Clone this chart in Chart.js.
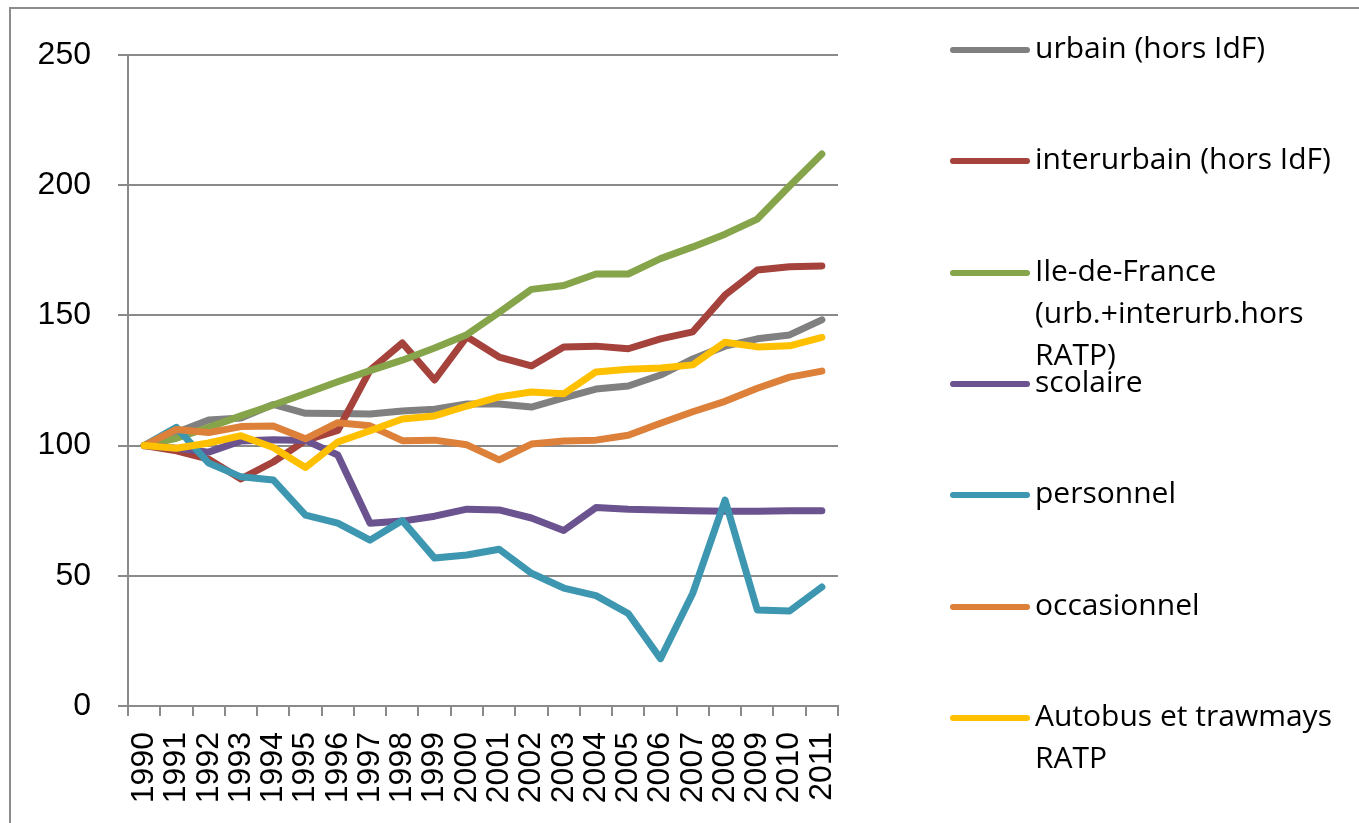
<!DOCTYPE html>
<html>
<head>
<meta charset="utf-8">
<script src="https://cdn.jsdelivr.net/npm/chart.js@4/dist/chart.umd.min.js"></script>
<style>
  body { margin: 0; background: #fff; }
  #wrap { position: relative; width: 1359px; height: 823px; overflow: hidden; }
  #legend { position: absolute; left: 0; top: 0; }
  .item { position: absolute; left: 950px; }
  .swatch { position: absolute; left: 0; width: 80px; height: 6px; border-radius: 3px; }
  .txt { position: absolute; left: 85px; width: 330px; font: 30px "Open Sans", sans-serif; line-height: 42px; color: #000; white-space: pre; }
</style>
</head>
<body>
<div id="wrap">
  <canvas id="chart" width="1359" height="823"></canvas>
  <div id="legend"></div>
</div>
<script>
// categories
var years = ['1990', '1991', '1992', '1993', '1994', '1995', '1996', '1997', '1998', '1999', '2000',
  '2001', '2002', '2003', '2004', '2005', '2006', '2007', '2008', '2009', '2010', '2011'];

// series (index 1990 = 100)
var urbain = [100, 105, 109.8, 110.6, 115.8, 112.4, 112.3, 112.1, 113.3, 114, 116, 116, 114.8, 118.3, 121.7, 122.9, 127.1, 133.3, 138.2, 141, 142.5, 148.3];
var interurbain = [100, 98, 94.8, 87.2, 93.7, 102, 105.8, 129, 139.4, 125.2, 141.8, 134, 130.6, 137.9, 138.2, 137.2, 141, 143.7, 157.8, 167.4, 168.7, 169];
var ileDeFrance = [100, 102.8, 107, 111.4, 115.6, 120, 124.5, 128.8, 132.8, 137.5, 142.6, 151.2, 160, 161.5, 165.9, 165.9, 171.8, 176.3, 181.2, 187, 199.7, 212];
var scolaire = [100, 99, 97.5, 101.8, 102.2, 102, 96.4, 70.2, 71, 72.9, 75.6, 75.3, 72.2, 67.4, 76.2, 75.6, 75.3, 75, 74.8, 74.8, 75, 75];
var personnel = [100, 107, 93.3, 88, 86.8, 73.3, 70.2, 63.7, 71.2, 56.8, 58, 60.2, 51, 45.3, 42.4, 35.5, 18.2, 43.3, 79.1, 36.9, 36.5, 45.7];
var occasionnel = [100, 106.2, 105, 107.3, 107.5, 102.6, 108.8, 107.6, 101.9, 102.1, 100.3, 94.5, 100.6, 101.8, 102.1, 104, 108.6, 113, 117, 122, 126.3, 128.6];
var ratp = [100, 99, 101, 103.8, 99.3, 91.6, 101.4, 105.7, 110.2, 111.4, 115.2, 118.7, 120.6, 119.9, 128.3, 129.3, 129.8, 131, 139.7, 137.9, 138.3, 141.6];

// y ticks
var yTicks = [0, 50, 100, 150, 200, 250];

var names = ['urbain (hors IdF)', 'interurbain (hors IdF)', 'Ile-de-France\n(urb.+interurb.hors\nRATP)', 'scolaire',
  'personnel', 'occasionnel', 'Autobus et trawmays\nRATP'];
var series = [urbain, interurbain, ileDeFrance, scolaire, personnel, occasionnel, ratp];
var colors = ['#808080', '#a5423c', '#86a44a', '#6b5390', '#3d97b0', '#dd803a', '#ffc000'];

var axisGray = '#8a8a8a';

// Frame around the whole chart (top and left edges visible)
var frame = {
  id: 'frame',
  beforeDraw: function (chart) {
    var ctx = chart.ctx;
    ctx.save();
    ctx.strokeStyle = '#8c8c8c';
    ctx.lineWidth = 2;
    ctx.strokeRect(10, 8, 1400, 900);
    ctx.restore();
  }
};

var datasets = series.map(function (d, i) {
  return {
    label: names[i].replace(/\n/g, ' '),
    data: d,
    borderColor: colors[i],
    backgroundColor: colors[i],
    borderWidth: 7,
    pointRadius: 0,
    tension: 0,
    fill: false,
    borderCapStyle: 'round',
    borderJoinStyle: 'round',
    order: series.length - 1 - i
  };
});

new Chart(document.getElementById('chart').getContext('2d'), {
  type: 'line',
  data: { labels: years, datasets: datasets },
  plugins: [frame],
  options: {
    responsive: false,
    animation: false,
    layout: { padding: { left: 0, right: 521, top: 55, bottom: 0 } },
    plugins: {
      legend: { display: false },
      tooltip: { enabled: false }
    },
    scales: {
      x: {
        offset: true,
        grid: {
          offset: true,
          drawOnChartArea: false,
          drawTicks: true,
          tickLength: 10,
          color: axisGray,
          lineWidth: 2
        },
        border: { color: axisGray, width: 2 },
        ticks: {
          minRotation: 90,
          maxRotation: 90,
          autoSkip: false,
          padding: 16,
          color: '#000',
          font: { family: 'Liberation Sans', size: 32 }
        },
        afterFit: function (scale) { scale.height = 117; }
      },
      y: {
        min: 0,
        max: 250,
        afterBuildTicks: function (scale) {
          scale.ticks = yTicks.map(function (v) { return { value: v }; });
        },
        grid: {
          color: axisGray,
          lineWidth: 2,
          tickLength: 10
        },
        border: { color: axisGray, width: 2 },
        ticks: {
          padding: 27,
          color: '#000',
          font: { family: 'Liberation Sans', size: 32 }
        },
        afterFit: function (scale) { scale.width = 128; }
      }
    }
  }
});

// Legend on the right, built from the same names and colours
var legend = document.getElementById('legend');
names.forEach(function (name, i) {
  var cy = 50 + i * 111.3;
  var item = document.createElement('div');
  item.className = 'item';
  item.style.top = cy + 'px';
  var sw = document.createElement('div');
  sw.className = 'swatch';
  sw.style.top = '-3px';
  sw.style.background = colors[i];
  var tx = document.createElement('div');
  tx.className = 'txt';
  tx.style.top = '-24px';
  tx.textContent = name;
  item.appendChild(sw);
  item.appendChild(tx);
  legend.appendChild(item);
});
</script>
</body>
</html>
